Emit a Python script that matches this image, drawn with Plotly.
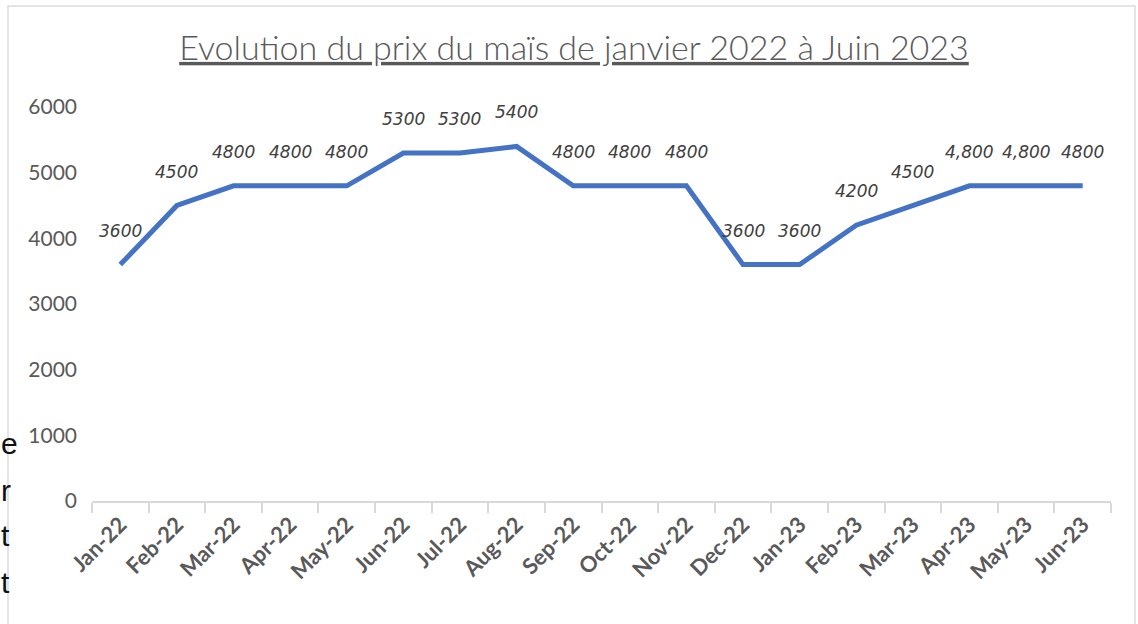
import plotly.graph_objects as go

months = ["Jan-22", "Feb-22", "Mar-22", "Apr-22", "May-22", "Jun-22", "Jul-22", "Aug-22",
          "Sep-22", "Oct-22", "Nov-22", "Dec-22", "Jan-23", "Feb-23", "Mar-23", "Apr-23",
          "May-23", "Jun-23"]
prices = [3600, 4500, 4800, 4800, 4800, 5300, 5300, 5400, 4800, 4800, 4800, 3600, 3600,
          4200, 4500, 4800, 4800, 4800]
labels = ["3600", "4500", "4800", "4800", "4800", "5300", "5300", "5400", "4800", "4800",
          "4800", "3600", "3600", "4200", "4500", "4,800", "4,800", "4800"]
y_ticks = [0, 1000, 2000, 3000, 4000, 5000, 6000]

W, H = 1138, 624
L, R, T, B = 92, 27, 107, 123
pw, ph = W - L - R, H - T - B

def px_x(p):
    return (p - L) / pw

def px_y(p):
    return (H - B - p) / ph

fig = go.Figure()
fig.add_trace(go.Scatter(
    x=months, y=prices, mode="lines",
    line=dict(color="#4472C4", width=5),
    hoverinfo="x+y", showlegend=False,
))

for m, v, t in zip(months, prices, labels):
    fig.add_annotation(
        x=m, y=v, text=t, showarrow=False, yshift=34, xshift=0,
        font=dict(family="DejaVu Sans", size=17, color="#404040", style="italic"),
    )

# outer frame of the chart area
fig.add_shape(type="rect", xref="paper", yref="paper",
              x0=px_x(8), x1=px_x(1135), y0=px_y(640), y1=px_y(6),
              line=dict(color="#DCDCDC", width=1.5), fillcolor="rgba(0,0,0,0)", layer="below")

# fragments of the surrounding document visible at the left edge
for ch, py in [("e", 443), ("r", 490), ("t", 535), ("t", 582)]:
    fig.add_annotation(xref="paper", yref="paper", x=px_x(-1), y=px_y(py), text=ch,
                       showarrow=False, xanchor="left", yanchor="middle",
                       font=dict(family="Liberation Sans", size=30, color="#111111"))

fig.update_layout(
    width=W, height=H,
    margin=dict(l=L, r=R, t=T, b=B, autoexpand=False),
    paper_bgcolor="white", plot_bgcolor="white",
    title=dict(
        text="<span style='text-decoration:underline'>Evolution du prix du maïs de janvier 2022 à Juin 2023</span>",
        x=574 / W, xref="container", xanchor="center", yref="container", y=1 - 48 / H,
        yanchor="middle",
        font=dict(family="Lato", size=34, color="#595959", weight=300),
        automargin=False,
    ),
    xaxis=dict(
        type="category", tickson="boundaries", showgrid=False, automargin=False,
        showline=True, linecolor="#D9D9D9", linewidth=2,
        ticks="outside", ticklen=10, tickcolor="#D9D9D9", tickwidth=2,
        tickangle=-45, tickfont=dict(family="Lato", size=22, color="#595959", weight="bold"),
        range=[-0.5, 17.5],
    ),
    yaxis=dict(
        range=[0, 6000], tickvals=y_ticks, showgrid=False, zeroline=False, automargin=False,
        showline=False, ticks="", ticklen=0,
        tickfont=dict(family="Lato", size=21, color="#595959"),
        ticklabelstandoff=14,
    ),
)

fig.write_html("out.html", config={"displayModeBar": False},
               post_script="document.body.style.margin='0px';")
